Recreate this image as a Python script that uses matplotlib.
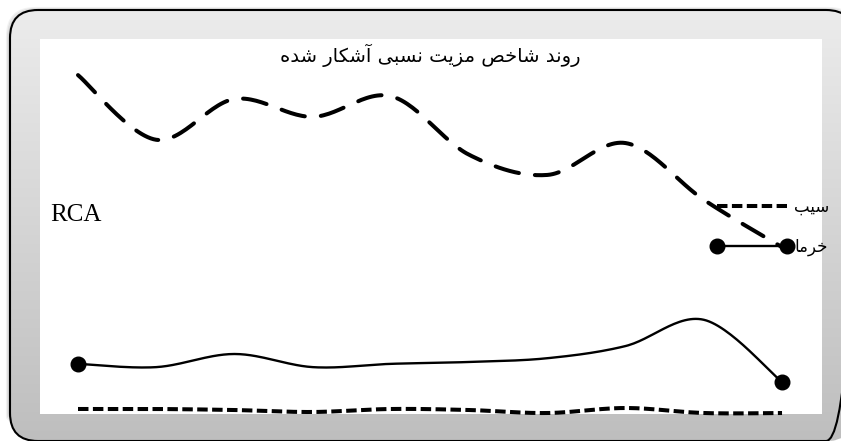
import numpy as np
import matplotlib
matplotlib.use("Agg")
import matplotlib.pyplot as plt
from matplotlib.patches import FancyBboxPatch, Rectangle
from matplotlib.lines import Line2D

# ---------------- data ----------------
years = ['1383', '1384', '1385', '1386', '1387', '1388', '1389', '1390', '1391', '1392']
series_top = [72.3, 58.5, 67.2, 63.4, 67.8, 55.3, 51.0, 57.8, 45.7, 35.6]   # long-dash series (no legend entry)
khorma = [10.7, 10.0, 12.8, 10.0, 10.7, 11.1, 11.9, 14.5, 20.1, 6.8]         # dates
sib = [1.07, 1.07, 0.85, 0.43, 1.07, 0.85, 0.21, 1.28, 0.21, 0.21]            # apples

title_fa = 'روند شاخص مزیت نسبی آشکار شده'
label_sib = 'سیب'
label_khorma = 'خرما'
y_label = 'RCA'

# ---------------- simple Persian shaping (matplotlib has no complex text layout) ----------------
FORMS = {
    'ا': ('\uFE8D', '\uFE8E', None, None),
    'آ': ('\uFE81', '\uFE82', None, None),
    'ب': ('\uFE8F', '\uFE90', '\uFE91', '\uFE92'),
    'ت': ('\uFE95', '\uFE96', '\uFE97', '\uFE98'),
    'خ': ('\uFEA5', '\uFEA6', '\uFEA7', '\uFEA8'),
    'د': ('\uFEA9', '\uFEAA', None, None),
    'ر': ('\uFEAD', '\uFEAE', None, None),
    'ز': ('\uFEAF', '\uFEB0', None, None),
    'س': ('\uFEB1', '\uFEB2', '\uFEB3', '\uFEB4'),
    'ش': ('\uFEB5', '\uFEB6', '\uFEB7', '\uFEB8'),
    'ص': ('\uFEB9', '\uFEBA', '\uFEBB', '\uFEBC'),
    'ک': ('\uFED9', '\uFEDA', '\uFEDB', '\uFEDC'),
    'م': ('\uFEE1', '\uFEE2', '\uFEE3', '\uFEE4'),
    'ن': ('\uFEE5', '\uFEE6', '\uFEE7', '\uFEE8'),
    'و': ('\uFEED', '\uFEEE', None, None),
    'ه': ('\uFEE9', '\uFEEA', '\uFEEB', '\uFEEC'),
    'ی': ('\uFEEF', '\uFEF0', '\uFEF3', '\uFEF4'),
}


def shape(text):
    out = []
    n = len(text)
    for i, ch in enumerate(text):
        if ch not in FORMS:
            out.append(ch)
            continue
        iso, fin, ini, med = FORMS[ch]
        prev = text[i - 1] if i > 0 else None
        nxt = text[i + 1] if i < n - 1 else None
        jp = prev in FORMS and FORMS[prev][2] is not None
        jn = nxt in FORMS and ini is not None
        if jp and jn:
            g = med
        elif jp:
            g = fin
        elif jn:
            g = ini
        else:
            g = iso
        out.append(g)
    return ''.join(out)[::-1]


def smooth(x, y, n=30):
    """Excel-like smoothed line (cubic Bezier through the points)."""
    x = np.asarray(x, float)
    y = np.asarray(y, float)
    P = np.column_stack([x, y])
    pts = []
    m = len(P)
    t = np.linspace(0, 1, n)[:, None]
    for i in range(m - 1):
        p0 = P[i - 1] if i > 0 else P[i]
        p1 = P[i]
        p2 = P[i + 1]
        p3 = P[i + 2] if i + 2 < m else P[i + 1]
        c1 = p1 + (p2 - p0) / 6.0
        c2 = p2 - (p3 - p1) / 6.0
        seg = ((1 - t) ** 3) * p1 + 3 * ((1 - t) ** 2) * t * c1 + 3 * (1 - t) * t ** 2 * c2 + t ** 3 * p2
        pts.append(seg if i == 0 else seg[1:])
    pts = np.vstack(pts)
    return pts[:, 0], pts[:, 1]


W, H = 841, 441
fig = plt.figure(figsize=(W / 100, H / 100), dpi=100)
fig.patch.set_facecolor('white')

# ---------------- background frame ----------------
bg = fig.add_axes([0, 0, 1, 1])
bg.set_xlim(0, W)
bg.set_ylim(H, 0)
bg.axis('off')

# faint shadow
for k, a in [(3, 0.05), (2, 0.07), (1, 0.09)]:
    bg.add_patch(FancyBboxPatch((10 - k, 10 - k + 1), 844 + 2 * k, 431 + 2 * k,
                                boxstyle='round,pad=0,rounding_size=28',
                                facecolor='none', edgecolor=(0, 0, 0, a), linewidth=1.5, zorder=0.5))

frame = FancyBboxPatch((10, 10), 844, 431, boxstyle='round,pad=0,rounding_size=28',
                       facecolor='none', edgecolor='black', linewidth=1.5, zorder=3)
grad = np.linspace(0, 1, 256)[:, None]
cols = np.empty((256, 1, 3))
top_c = np.array([236, 236, 236]) / 255
bot_c = np.array([190, 190, 190]) / 255
cols[:, 0, :] = top_c + (bot_c - top_c) * grad
im = bg.imshow(cols, extent=[10, 854, 441, 10], aspect='auto', zorder=1, interpolation='bilinear')
fill_patch = FancyBboxPatch((10, 10), 844, 431, boxstyle='round,pad=0,rounding_size=28',
                            facecolor='none', edgecolor='none', transform=bg.transData)
bg.add_patch(fill_patch)
im.set_clip_path(fill_patch)
bg.add_patch(frame)
bg.add_patch(Rectangle((40, 39), 782, 375, facecolor='white', edgecolor='none', zorder=2))

# ---------------- data axes ----------------
ax = fig.add_axes([40 / W, 1 - 414 / H, 782 / W, 375 / H])
ax.patch.set_alpha(0)
xi = np.arange(len(years))
ax.set_xlim(-0.4858, 9.511)
ax.set_ylim(0, 80)
for s in ax.spines.values():
    s.set_visible(False)
ax.set_xticks([])
ax.set_yticks([])

sx, sy = smooth(xi, series_top)
l_top, = ax.plot(sx, sy, color='black', lw=2.9, clip_on=False)
l_top.set_dashes((6, 4))
l_top.set_dash_capstyle('round')

kx, ky = smooth(xi, khorma)
ax.plot(kx, ky, color='black', lw=1.7, clip_on=False)
ax.plot(xi[[0, -1]], np.asarray(khorma)[[0, -1]], 'o', color='black', ms=10.5, clip_on=False)

bx, by = smooth(xi, sib)
l_sib, = ax.plot(bx, by, color='black', lw=2.9, clip_on=False)
l_sib.set_dashes((2.6, 1.1))

# ---------------- texts ----------------
fig.text(430 / W, 1 - 55 / H, shape(title_fa), ha='center', va='center',
         fontsize=14, family='DejaVu Sans', color='black')
fig.text(50 / W, 1 - 215 / H, y_label, ha='left', va='center',
         fontsize=18, family='Liberation Serif', color='black')

h_sib = Line2D([], [], color='black', lw=2.9, dashes=(2.6, 1.1))
h_kh = Line2D([], [], color='black', lw=1.7, marker='o', ms=10.5)
leg = fig.legend([h_sib, h_kh], [shape(label_sib), shape(label_khorma)],
                 loc='upper left', bbox_to_anchor=(712 / W, 1 - 198 / H),
                 frameon=False, borderpad=0, borderaxespad=0, handlelength=4.8,
                 handletextpad=0.12, numpoints=2, labelspacing=1.3,
                 prop={'family': 'DejaVu Sans', 'size': 12})

fig.savefig('out.png', dpi=100, facecolor=fig.get_facecolor())
